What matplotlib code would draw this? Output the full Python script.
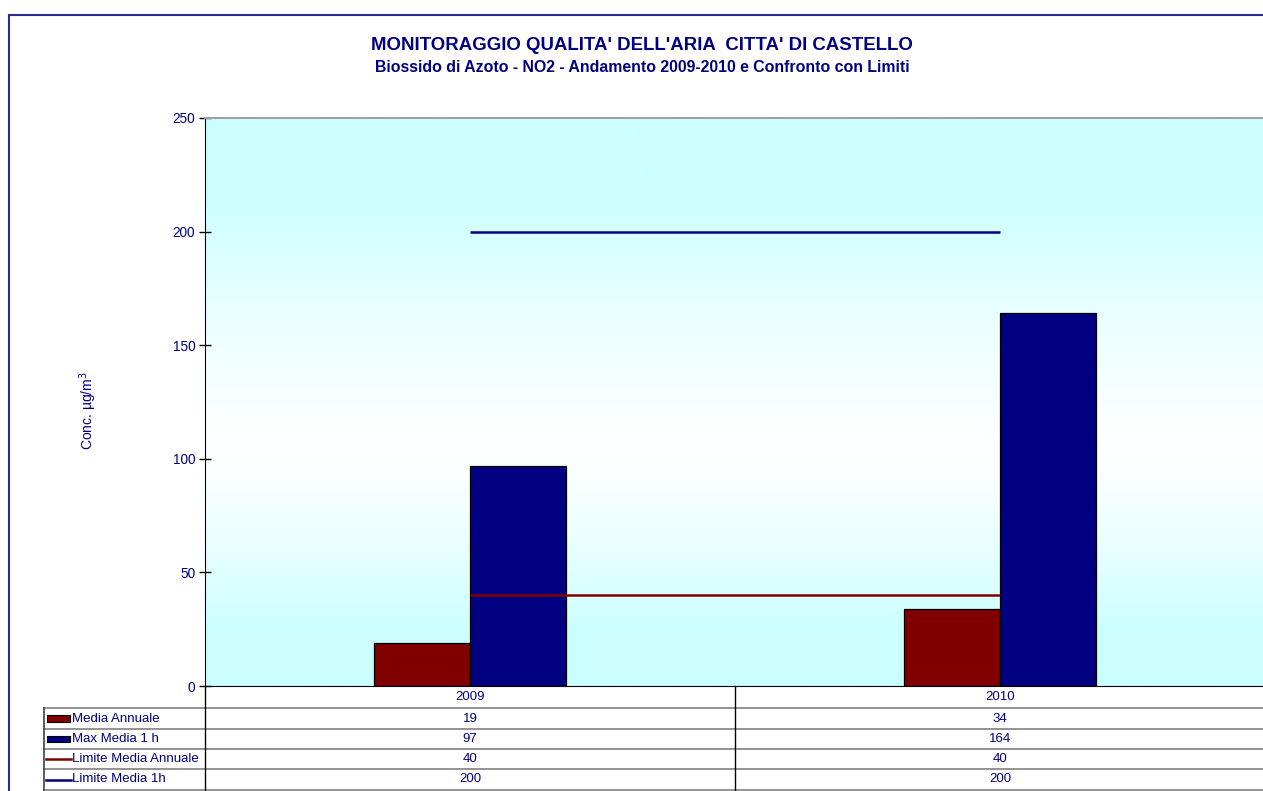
import numpy as np
import matplotlib
matplotlib.use("Agg")
import matplotlib.pyplot as plt
from matplotlib.lines import Line2D
from matplotlib.patches import Rectangle
from matplotlib.colors import to_rgb
import matplotlib.transforms as mtransforms

# ---------------- data ----------------
years = ["2009", "2010"]
media_annuale = [19, 34]
max_media_1h = [97, 164]
limite_media_annuale = [40, 40]
limite_media_1h = [200, 200]
series_names = ["Media Annuale", "Max Media 1 h", "Limite Media Annuale", "Limite Media 1h"]
yticks = [0, 50, 100, 150, 200, 250]

title = "MONITORAGGIO QUALITA' DELL'ARIA  CITTA' DI CASTELLO"
subtitle = "Biossido di Azoto - NO2 - Andamento 2009-2010 e Confronto con Limiti"
ylabel = "Conc. µg/m$^3$"

# ---------------- style ----------------
W, H = 1263, 791
RED = "#800000"
BLUE = "#000080"
TXT = "#000080"
plt.rcParams["font.family"] = ["Liberation Sans", "DejaVu Sans"]

fig = plt.figure(figsize=(W / 100, H / 100), dpi=100)

def fx(px):
    return px / W

def fy(py):
    return 1 - py / H

# outer border
fig.add_artist(Rectangle((fx(9), fy(800)), fx(1300) - fx(9), fy(15) - fy(800),
                         transform=fig.transFigure, fill=False,
                         edgecolor="#2b2b8c", linewidth=1.5))

ax_left, ax_right, ax_top, ax_bot = 205, 1265, 118, 686
ax = fig.add_axes([fx(ax_left), fy(ax_bot), fx(ax_right) - fx(ax_left), fy(ax_top) - fy(ax_bot)])

x = np.arange(len(years))
ax.set_xlim(-0.5, len(years) - 0.5)
ax.set_ylim(0, 250)

# gradient background (cyan -> white -> cyan)
cyan = np.array(to_rgb("#ccffff"))
white = np.array([1.0, 1.0, 1.0])
n = 400
f = np.linspace(0, 1, n)  # 0 bottom, 1 top
centre = 0.42
t = np.where(f > centre, (f - centre) / (1 - centre), (centre - f) / centre)
t = np.clip(t * 1.3, 0, 1) ** 1.3
grad = white[None, :] + (cyan - white)[None, :] * t[:, None]
img = np.repeat(grad[:, None, :], 2, axis=1)
ax.imshow(img, extent=[-0.5, len(years) - 0.5, 0, 250], origin="lower",
          aspect="auto", zorder=0, interpolation="bilinear")

bw = 0.182
ax.bar(x - bw / 2, media_annuale, width=bw, color=RED, edgecolor="black", linewidth=0.9, zorder=2)
ax.bar(x + bw / 2, max_media_1h, width=bw, color=BLUE, edgecolor="black", linewidth=0.9, zorder=2)
ax.plot(x, limite_media_annuale, color=RED, linewidth=1.8, zorder=3, solid_capstyle="butt")
ax.plot(x, limite_media_1h, color=BLUE, linewidth=1.8, zorder=3, solid_capstyle="butt")

ax.set_yticks(yticks)
ax.set_xticks([])
ax.tick_params(axis="y", direction="inout", length=8, width=1, colors="black",
               labelcolor=TXT, labelsize=9.8, pad=3)
ax.spines["left"].set_color("black")
ax.spines["bottom"].set_color("black")
ax.spines["top"].set_color("#a0a0a0")
ax.spines["top"].set_linewidth(1.5)
ax.spines["right"].set_visible(False)
fig.text(fx(88), fy(411), ylabel, rotation=90, color=TXT, fontsize=10,
         ha="center", va="center")

# titles
fig.text(fx(642), fy(46), title, ha="center", va="center", fontsize=13.4,
         fontweight="bold", color=TXT)
fig.text(fx(642), fy(67), subtitle, ha="center", va="center", fontsize=11.4,
         fontweight="bold", color=TXT)

# ---------------- data table ----------------
blend = mtransforms.blended_transform_factory(ax.transData, fig.transFigure)
row_edges = [686, 708, 729, 749, 769, 790]
gray = "#808080"
for py in row_edges[1:]:
    fig.add_artist(Line2D([fx(44), fx(1300)], [fy(py), fy(py)], transform=fig.transFigure,
                          color=gray, linewidth=1.2))
fig.add_artist(Line2D([fx(44), fx(44)], [fy(708), fy(790)], transform=fig.transFigure,
                      color="#404040", linewidth=1.2))
for xb in np.arange(-0.5, len(years) + 0.5, 1.0):
    fig.add_artist(Line2D([xb, xb], [fy(686), fy(790)], transform=blend,
                          color="black", linewidth=1.0))

for i, yr in enumerate(years):
    fig.text(i, fy((row_edges[0] + row_edges[1]) / 2), yr, transform=blend,
             ha="center", va="center", fontsize=9.5, color=TXT)

table_values = [media_annuale, max_media_1h, limite_media_annuale, limite_media_1h]
for r, (name, vals) in enumerate(zip(series_names, table_values)):
    ymid = (row_edges[r + 1] + row_edges[r + 2]) / 2
    for i, v in enumerate(vals):
        fig.text(i, fy(ymid), f"{v}", transform=blend, ha="center", va="center",
                 fontsize=9.5, color=TXT)
    fig.text(fx(72), fy(ymid), name, ha="left", va="center", fontsize=9.5, color=TXT)
    if r < 2:
        col = RED if r == 0 else BLUE
        fig.add_artist(Rectangle((fx(47), fy(ymid + 3)), fx(23), fy(ymid - 3) - fy(ymid + 3),
                                 transform=fig.transFigure, facecolor=col,
                                 edgecolor="black", linewidth=0.8))
    else:
        col = RED if r == 2 else BLUE
        fig.add_artist(Line2D([fx(46), fx(71)], [fy(ymid), fy(ymid)], transform=fig.transFigure,
                              color=col, linewidth=1.8))

fig.savefig("out.png", dpi=100)
